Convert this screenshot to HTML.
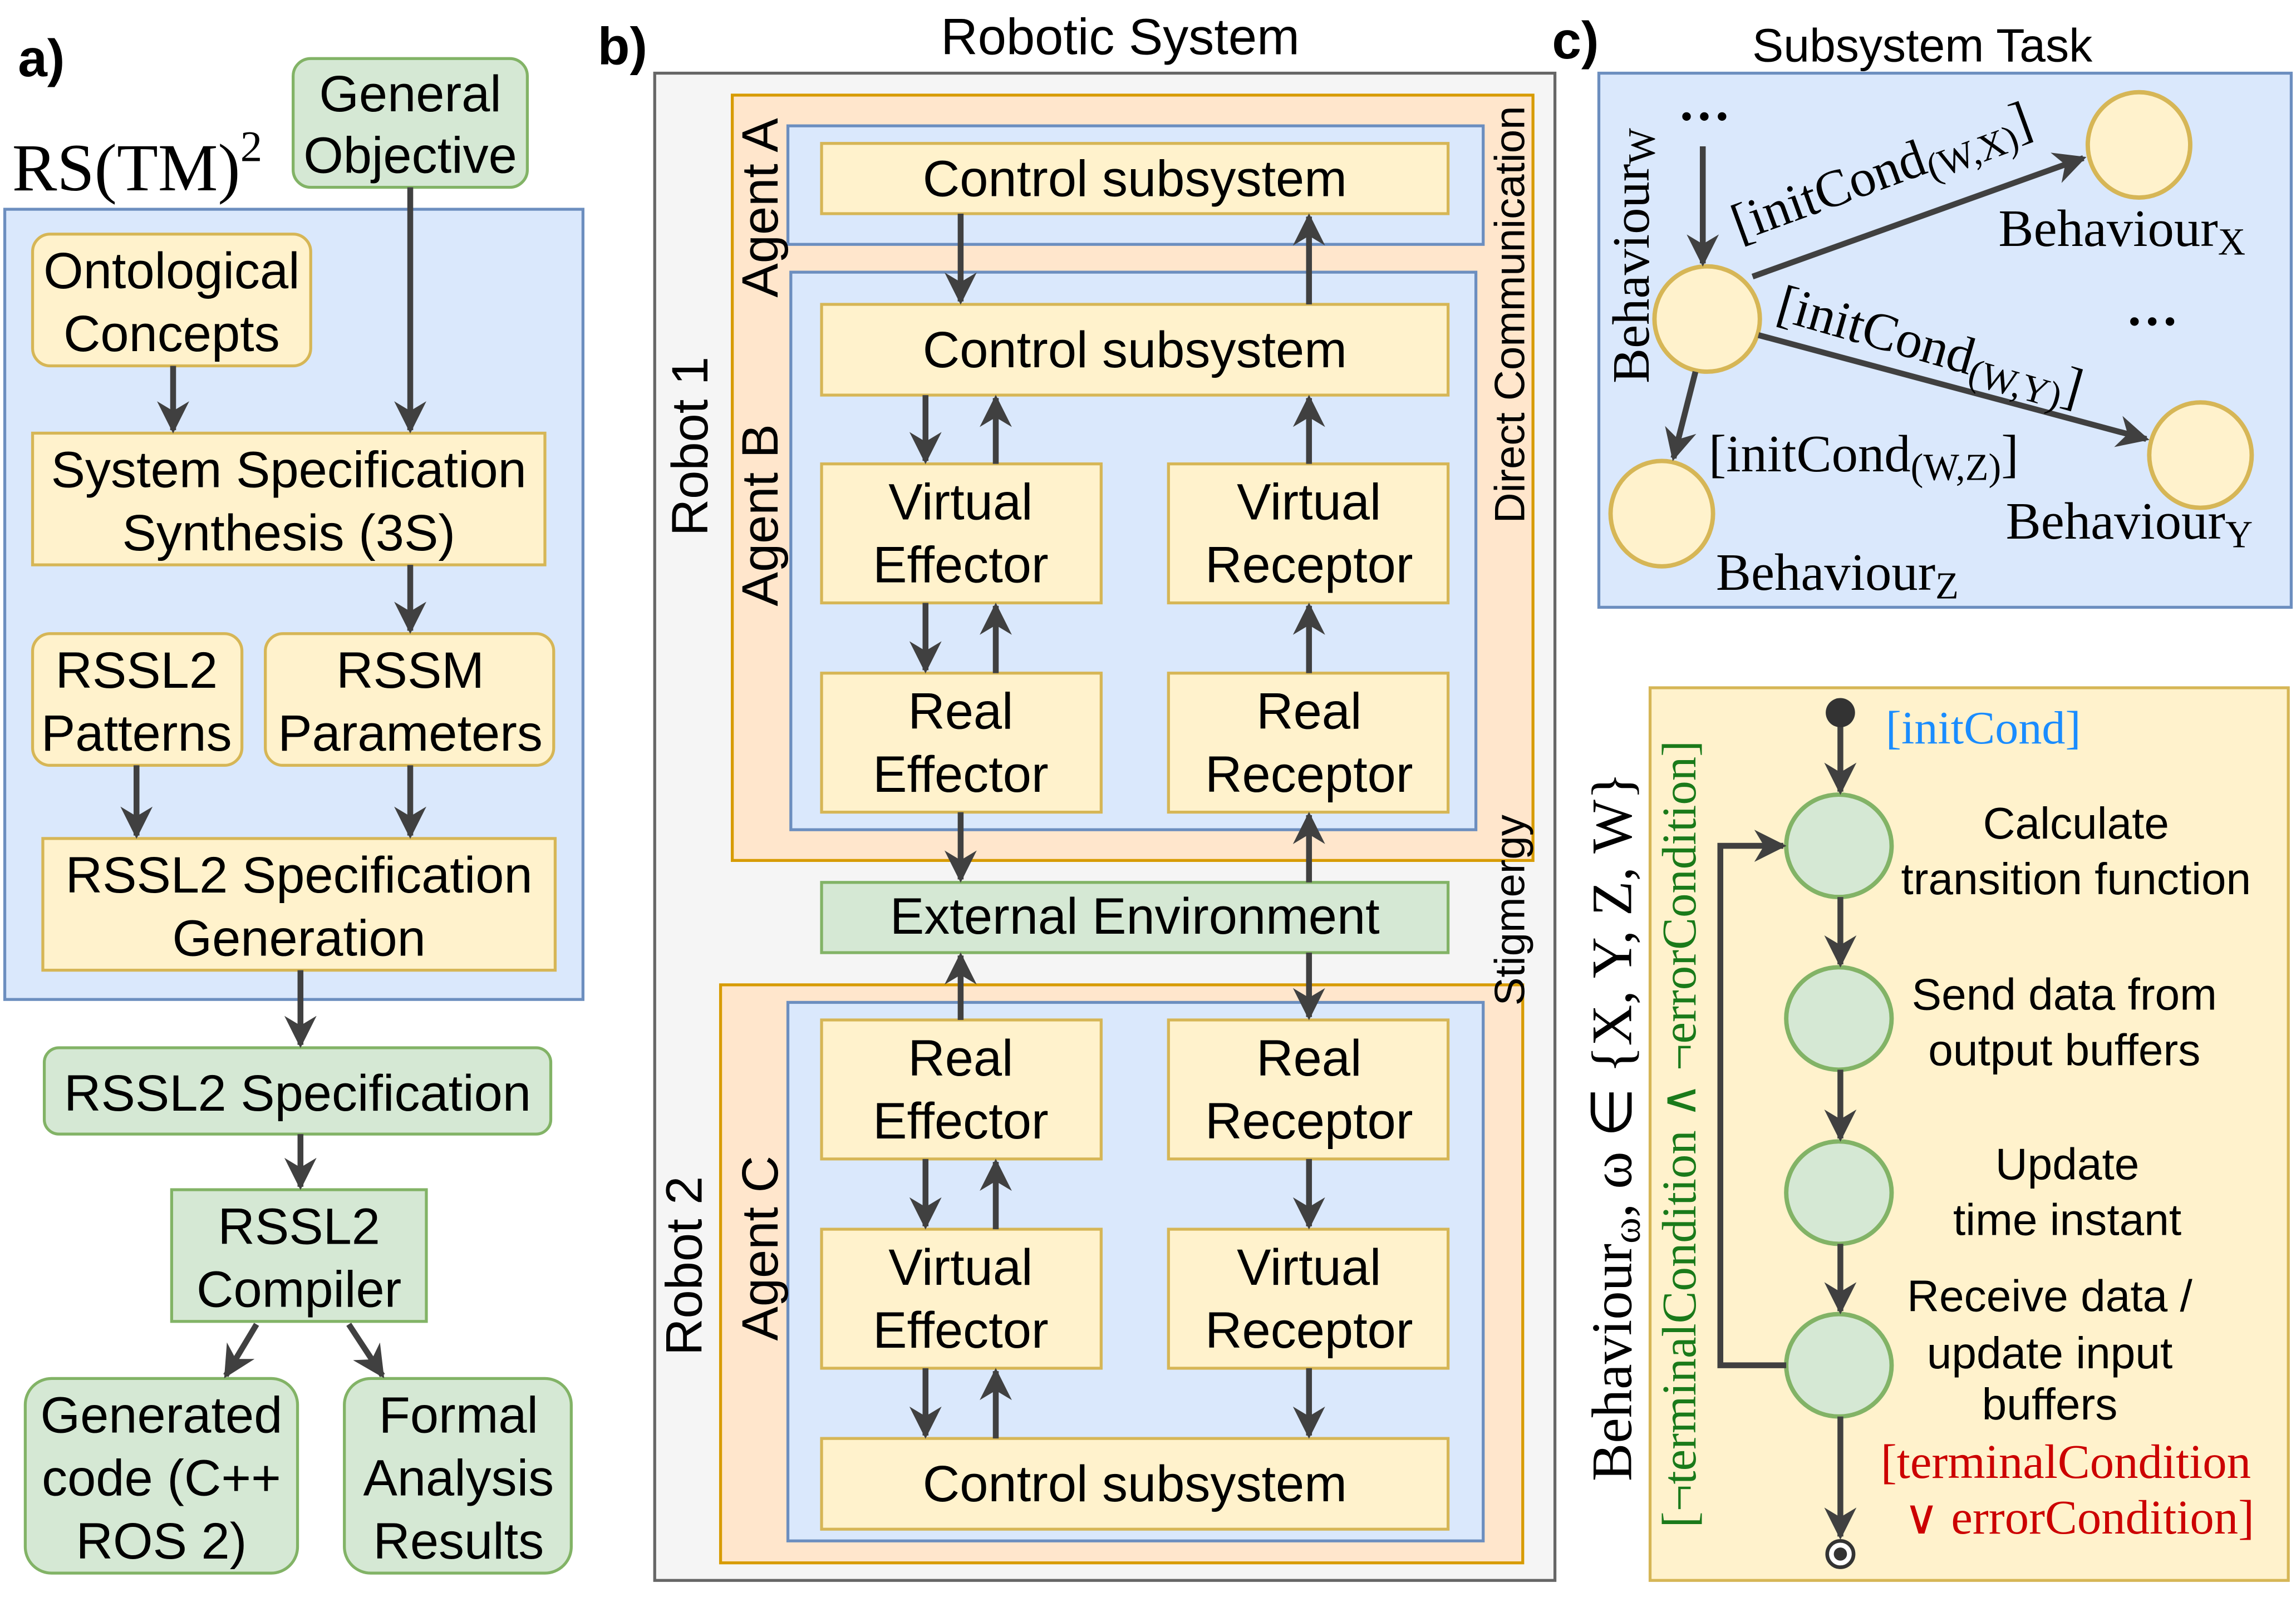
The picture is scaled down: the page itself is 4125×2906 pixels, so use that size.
<!DOCTYPE html>
<html><head><meta charset="utf-8"><style>
html,body{margin:0;padding:0;background:#fff}
svg{display:block}
text{font-family:"Liberation Sans",sans-serif;fill:#000}
.s{font-size:35px;text-anchor:middle}
.t{font-size:30.5px;text-anchor:middle}
.serif{font-family:"Liberation Serif",serif}
</style></head><body>
<svg width="4125" height="2906" viewBox="0 0 1568 1105" xmlns="http://www.w3.org/2000/svg">
<defs>
<marker id="a" viewBox="0 0 10 10" refX="9" refY="5" markerWidth="5.5" markerHeight="5.5" orient="auto" markerUnits="strokeWidth">
<path d="M0,0 L10,5 L0,10 L3,5 z" fill="#404040"/></marker>
</defs>
<g stroke-width="2">
<rect x="3" y="143" width="395" height="540" fill="#dae8fc" stroke="#6c8ebf"/>
<rect x="200" y="40" width="160" height="88" rx="12" fill="#d5e8d4" stroke="#82b366"/>
<rect x="22" y="160" width="190" height="90" rx="12" fill="#fff2cc" stroke="#d6b656"/>
<rect x="22" y="296" width="350" height="90" fill="#fff2cc" stroke="#d6b656"/>
<rect x="22" y="433" width="143" height="90" rx="12" fill="#fff2cc" stroke="#d6b656"/>
<rect x="181" y="433" width="197" height="90" rx="12" fill="#fff2cc" stroke="#d6b656"/>
<rect x="29" y="573" width="350" height="90" fill="#fff2cc" stroke="#d6b656"/>
<rect x="30" y="716" width="346" height="59" rx="10" fill="#d5e8d4" stroke="#82b366"/>
<rect x="117" y="813" width="174" height="90" fill="#d5e8d4" stroke="#82b366"/>
<rect x="17" y="942" width="186" height="133" rx="18" fill="#d5e8d4" stroke="#82b366"/>
<rect x="235" y="942" width="155" height="133" rx="18" fill="#d5e8d4" stroke="#82b366"/>
<rect x="447" y="50" width="615" height="1030" fill="#f5f5f5" stroke="#666"/>
<rect x="500" y="65" width="547" height="523" fill="#ffe6cc" stroke="#d79b00"/>
<rect x="538" y="86" width="475" height="81" fill="#dae8fc" stroke="#6c8ebf"/>
<rect x="540" y="186" width="468" height="381" fill="#dae8fc" stroke="#6c8ebf"/>
<rect x="492" y="673" width="548" height="395" fill="#ffe6cc" stroke="#d79b00"/>
<rect x="538" y="685" width="475" height="368" fill="#dae8fc" stroke="#6c8ebf"/>
<g fill="#fff2cc" stroke="#d6b656">
<rect x="561" y="98" width="428" height="48"/>
<rect x="561" y="208" width="428" height="62"/>
<rect x="561" y="317" width="191" height="95"/><rect x="798" y="317" width="191" height="95"/>
<rect x="561" y="460" width="191" height="95"/><rect x="798" y="460" width="191" height="95"/>
<rect x="561" y="697" width="191" height="95"/><rect x="798" y="697" width="191" height="95"/>
<rect x="561" y="840" width="191" height="95"/><rect x="798" y="840" width="191" height="95"/>
<rect x="561" y="983" width="428" height="62"/>
</g>
<rect x="561" y="603" width="428" height="48" fill="#d5e8d4" stroke="#82b366"/>
<rect x="1092" y="50" width="473" height="365" fill="#dae8fc" stroke="#6c8ebf"/>
<rect x="1127" y="470" width="436" height="610" fill="#fff2cc" stroke="#d6b656"/>
<g fill="#fff2cc" stroke="#d6b656" stroke-width="3">
<ellipse cx="1166" cy="218" rx="36" ry="36"/>
<ellipse cx="1461" cy="99" rx="35" ry="36"/>
<ellipse cx="1503" cy="311" rx="35" ry="36"/>
<ellipse cx="1135" cy="351" rx="35" ry="36"/>
</g>
<g fill="#d5e8d4" stroke="#82b366" stroke-width="3">
<ellipse cx="1256" cy="578" rx="36" ry="35"/>
<ellipse cx="1256" cy="696" rx="36" ry="35"/>
<ellipse cx="1256" cy="815" rx="36" ry="35"/>
<ellipse cx="1256" cy="933" rx="36" ry="35"/>
</g>
</g>
<g stroke="#404040" stroke-width="4" fill="none" marker-end="url(#a)">
<line x1="118" y1="250" x2="118" y2="294"/>
<line x1="280" y1="128" x2="280" y2="294"/>
<line x1="280" y1="386" x2="280" y2="431"/>
<line x1="93" y1="523" x2="93" y2="571"/>
<line x1="280" y1="523" x2="280" y2="571"/>
<line x1="205" y1="663" x2="205" y2="714"/>
<line x1="205" y1="775" x2="205" y2="811"/>
<line x1="175" y1="905" x2="154" y2="940"/>
<line x1="238" y1="905" x2="261" y2="940"/>
<line x1="656" y1="146" x2="656" y2="206"/>
<line x1="894" y1="208" x2="894" y2="148"/>
<line x1="632" y1="270" x2="632" y2="315"/>
<line x1="680" y1="317" x2="680" y2="272"/>
<line x1="894" y1="317" x2="894" y2="272"/>
<line x1="632" y1="412" x2="632" y2="458"/>
<line x1="680" y1="460" x2="680" y2="414"/>
<line x1="894" y1="460" x2="894" y2="414"/>
<line x1="656" y1="555" x2="656" y2="601"/>
<line x1="894" y1="603" x2="894" y2="557"/>
<line x1="656" y1="697" x2="656" y2="653"/>
<line x1="894" y1="651" x2="894" y2="695"/>
<line x1="632" y1="792" x2="632" y2="838"/>
<line x1="680" y1="840" x2="680" y2="794"/>
<line x1="894" y1="792" x2="894" y2="838"/>
<line x1="632" y1="935" x2="632" y2="981"/>
<line x1="680" y1="983" x2="680" y2="937"/>
<line x1="894" y1="935" x2="894" y2="981"/>
<line x1="1163" y1="100" x2="1163" y2="180"/>
<line x1="1197" y1="189" x2="1423" y2="108"/>
<line x1="1201" y1="229" x2="1466" y2="300"/>
<line x1="1158" y1="254" x2="1143" y2="313"/>
<line x1="1257" y1="495" x2="1257" y2="541"/>
<line x1="1257" y1="613" x2="1257" y2="659"/>
<line x1="1257" y1="731" x2="1257" y2="778"/>
<line x1="1257" y1="850" x2="1257" y2="896"/>
<line x1="1257" y1="968" x2="1257" y2="1050"/>
<polyline points="1220,933 1175,933 1175,578 1218,578"/>
</g>
<circle cx="1257" cy="487" r="10" fill="#333"/>
<circle cx="1257" cy="1062" r="9" fill="#fff" stroke="#333" stroke-width="2.5"/>
<circle cx="1257" cy="1062" r="4.5" fill="#333"/>
<text x="12" y="52" font-size="36" font-weight="bold">a)</text>
<text x="8" y="130" font-size="46" class="serif">RS(TM)<tspan font-size="30" dy="-20">2</tspan></text>
<text class="s" x="280" y="76">General</text><text class="s" x="280" y="118">Objective</text>
<text class="s" x="117" y="197">Ontological</text><text class="s" x="117" y="240">Concepts</text>
<text class="s" x="197" y="333">System Specification</text><text class="s" x="197" y="376">Synthesis (3S)</text>
<text class="s" x="93" y="470">RSSL2</text><text class="s" x="93" y="513">Patterns</text>
<text class="s" x="280" y="470">RSSM</text><text class="s" x="280" y="513">Parameters</text>
<text class="s" x="204" y="610">RSSL2 Specification</text><text class="s" x="204" y="653">Generation</text>
<text class="s" x="203" y="759">RSSL2 Specification</text>
<text class="s" x="204" y="850">RSSL2</text><text class="s" x="204" y="893">Compiler</text>
<text class="s" x="110" y="979">Generated</text><text class="s" x="110" y="1022">code (C++</text><text class="s" x="110" y="1065">ROS 2)</text>
<text class="s" x="313" y="979">Formal</text><text class="s" x="313" y="1022">Analysis</text><text class="s" x="313" y="1065">Results</text>
<text x="408" y="44" font-size="36" font-weight="bold">b)</text>
<text class="s" x="765" y="37" style="font-size:35px">Robotic System</text>
<text class="s" x="775" y="134">Control subsystem</text>
<text class="s" x="775" y="251">Control subsystem</text>
<text class="s" x="656" y="355">Virtual</text><text class="s" x="656" y="398">Effector</text>
<text class="s" x="894" y="355">Virtual</text><text class="s" x="894" y="398">Receptor</text>
<text class="s" x="656" y="498">Real</text><text class="s" x="656" y="541">Effector</text>
<text class="s" x="894" y="498">Real</text><text class="s" x="894" y="541">Receptor</text>
<text class="s" x="775" y="638">External Environment</text>
<text class="s" x="656" y="735">Real</text><text class="s" x="656" y="778">Effector</text>
<text class="s" x="894" y="735">Real</text><text class="s" x="894" y="778">Receptor</text>
<text class="s" x="656" y="878">Virtual</text><text class="s" x="656" y="921">Effector</text>
<text class="s" x="894" y="878">Virtual</text><text class="s" x="894" y="921">Receptor</text>
<text class="s" x="775" y="1026">Control subsystem</text>
<text class="s" transform="translate(483,305) rotate(-90)">Robot 1</text>
<text class="s" transform="translate(479,865) rotate(-90)">Robot 2</text>
<text class="s" transform="translate(531,142) rotate(-90)">Agent A</text>
<text class="s" transform="translate(531,352) rotate(-90)">Agent B</text>
<text class="s" transform="translate(531,853) rotate(-90)">Agent C</text>
<text class="s" transform="translate(1041,215) rotate(-90)" style="font-size:29px">Direct Communication</text>
<text class="s" transform="translate(1041,622) rotate(-90)" style="font-size:29px">Stigmergy</text>
<text x="1060" y="40" font-size="36" font-weight="bold">c)</text>
<text class="s" x="1313" y="42" style="font-size:32px">Subsystem Task</text>
<text class="serif" transform="translate(1126,262) rotate(-90)" font-size="36">Behaviour<tspan font-size="26" dy="4">W</tspan></text>
<text class="serif" x="1146" y="82" font-size="36" font-weight="bold">…</text>
<text class="serif" x="1452" y="222" font-size="36" font-weight="bold">…</text>
<text class="serif" transform="translate(1188,165) rotate(-20)" font-size="36">[initCond<tspan font-size="26" dy="6">(W,X)</tspan><tspan dy="-6">]</tspan></text>
<text class="serif" transform="translate(1212,218) rotate(16)" font-size="36">[initCond<tspan font-size="26" dy="6">(W,Y)</tspan><tspan dy="-6">]</tspan></text>
<text class="serif" x="1167" y="322" font-size="36">[initCond<tspan font-size="26" dy="6">(W,Z)</tspan><tspan dy="-6">]</tspan></text>
<text class="serif" x="1365" y="168" font-size="36">Behaviour<tspan font-size="26" dy="6">X</tspan></text>
<text class="serif" x="1370" y="368" font-size="36">Behaviour<tspan font-size="26" dy="6">Y</tspan></text>
<text class="serif" x="1172" y="403" font-size="36">Behaviour<tspan font-size="26" dy="6">Z</tspan></text>
<text class="serif" text-anchor="middle" transform="translate(1114,770) rotate(-90)" font-size="39">Behaviour<tspan font-size="27" dy="6">ω</tspan><tspan dy="-6">, ω ∈ {X, Y, Z, W}</tspan></text>
<text class="serif" text-anchor="middle" transform="translate(1158,775) rotate(-90)" font-size="33" style="fill:#1a7a1a">[¬terminalCondition ∧ ¬errorCondition]</text>
<text class="serif" x="1288" y="508" font-size="32" style="fill:#1a8cff">[initCond]</text>
<text class="serif" x="1411" y="1010" font-size="33" text-anchor="middle" style="fill:#cc0000">[terminalCondition</text>
<text class="serif" x="1420" y="1048" font-size="33" text-anchor="middle" style="fill:#cc0000">∨ errorCondition]</text>
<text class="t" x="1418" y="573">Calculate</text>
<text class="t" x="1418" y="611">transition function</text>
<text class="t" x="1410" y="690">Send data from</text>
<text class="t" x="1410" y="728">output buffers</text>
<text class="t" x="1412" y="806">Update</text>
<text class="t" x="1412" y="844">time instant</text>
<text class="t" x="1400" y="896">Receive data /</text>
<text class="t" x="1400" y="935">update input</text>
<text class="t" x="1400" y="970">buffers</text>
</svg>
</body></html>
